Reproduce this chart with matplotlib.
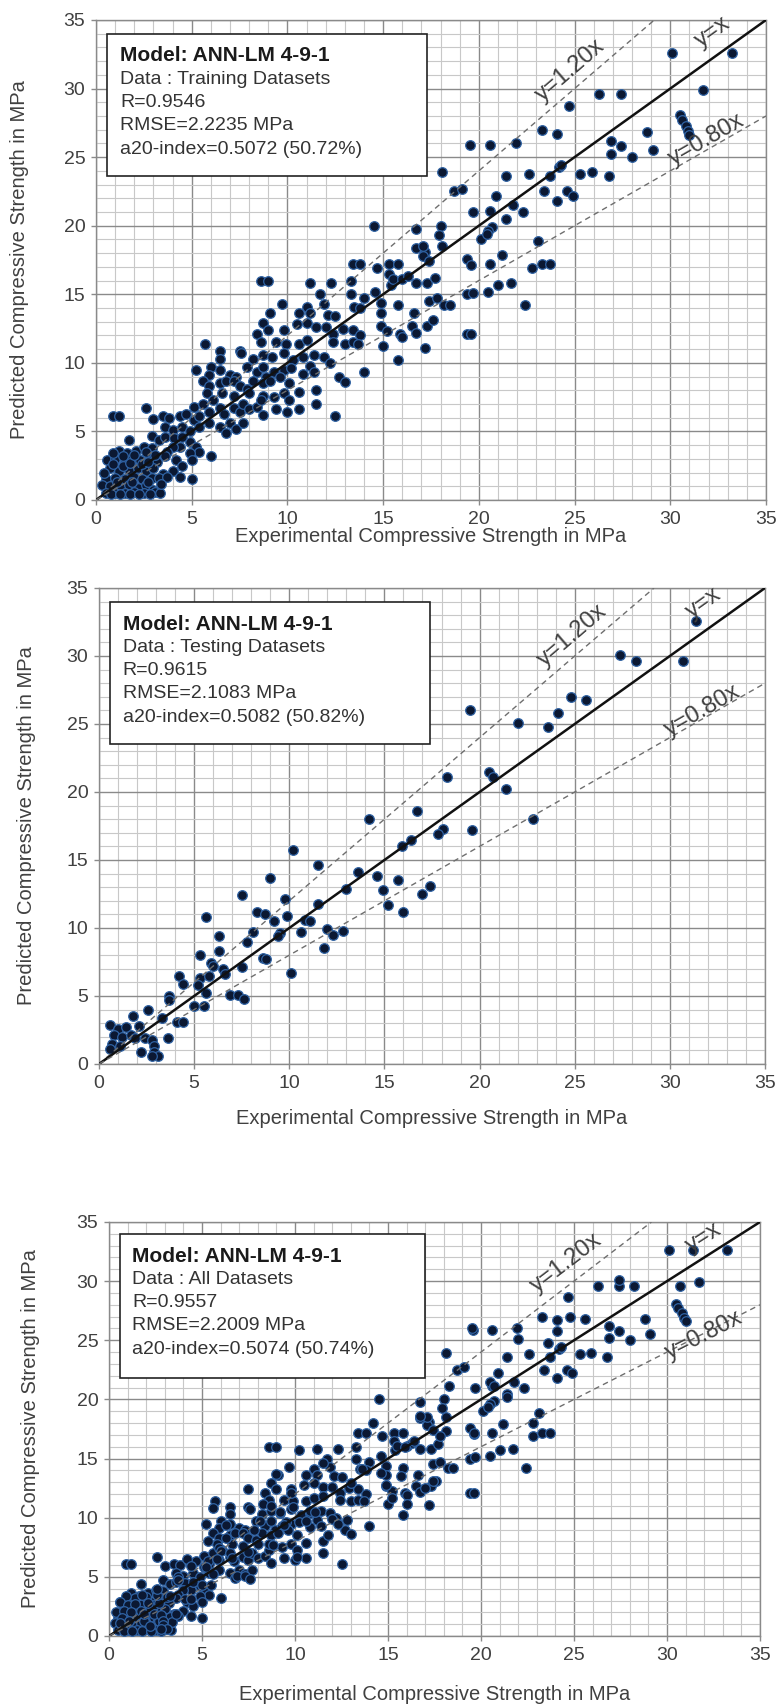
import matplotlib
matplotlib.use("Agg")
import matplotlib.pyplot as plt
from matplotlib.patches import Rectangle
import numpy as np

plt.rcParams['font.family'] = ['Liberation Sans', 'DejaVu Sans']

# ---------------- data ----------------
# Training datasets
train_x = [
    8.6, 9.0, 11.2, 12.3, 13.3, 15.4,
    11.7, 13.3, 14.6,
    9.7, 11.9, 11.0, 14.0, 14.9,
    9.1, 10.6, 11.2, 12.1, 12.5, 13.5, 13.8, 14.9,
    8.7, 9.0, 8.4, 9.8, 10.5, 11.0, 11.5, 12.0, 12.4, 12.9, 13.4, 13.8, 14.9, 15.2,
    5.7, 8.6, 9.4, 9.9, 10.6, 11.0, 12.4, 13.0, 13.4, 13.7, 15.0,
    6.5, 7.5, 7.6, 6.5, 8.2, 8.7, 9.2, 9.8, 10.3, 10.8, 11.4, 11.9, 12.2, 11.2,
    5.2, 6.0, 5.9, 6.5, 7.0, 7.3, 7.9, 8.4, 8.7, 8.9, 9.3, 9.8, 10.2, 10.8, 11.4, 12.7, 13.0, 14.0,
    5.6, 5.9, 5.8, 6.5, 6.8, 7.2, 7.5, 6.6, 7.2, 7.9, 8.2, 8.7, 9.1, 9.6, 10.1, 10.6, 8.0, 8.7, 9.3, 9.8, 11.5, 11.5,
    5.1, 5.6, 6.1, 6.5, 5.9, 6.7, 7.2, 7.5, 7.7, 8.0, 8.4, 8.6, 8.7, 10.1, 10.0, 10.6, 9.4, 12.5, 2.6, 0.9, 1.2,
    3.0, 3.5, 3.8, 4.4, 4.7, 5.1, 5.4, 3.6, 4.0, 4.5, 4.9, 5.4, 5.9, 6.5, 7.0, 7.3, 6.8, 7.7,
    2.9, 1.7, 3.3, 3.6, 4.1, 4.4, 4.9, 5.2, 5.4, 4.9, 6.0, 4.5, 4.0, 3.7, 3.6,
    1.2, 1.6, 2.1, 2.5, 2.9, 0.6, 1.0, 1.5, 1.9, 2.3, 2.8, 3.2, 4.2, 4.5, 5.0,
    0.75, 1.2, 1.7, 2.2, 2.6, 3.0, 3.5, 4.0, 4.4, 5.0, 0.5, 1.0, 1.5, 2.0, 2.4, 2.9, 3.3, 3.7,
    0.3, 0.75, 1.3, 1.7, 2.2, 2.6, 3.0, 0.5, 1.0, 1.5, 2.0, 2.5, 3.1,
    0.8, 1.25, 1.75, 2.25, 2.8, 3.35,
    0.4, 0.9, 1.4, 1.8, 2.4, 2.7, 3.1, 1.1, 1.9, 2.7, 3.4, 1.4, 2.0, 2.6, 0.9,
    14.5, 13.4, 13.8, 14.7, 15.3, 15.3, 15.5,
    15.8, 16.0, 16.3, 16.7, 17.3, 17.7, 17.2, 17.1, 17.4,
    19.4, 19.6, 20.6, 21.2, 22.8, 23.3, 23.7,
    15.8, 17.4, 17.8, 18.2, 18.5, 19.4, 19.7, 20.5, 21.0, 21.7, 22.4,
    19.4, 19.6, 15.9, 16.0, 16.5, 16.7, 17.3, 17.2, 15.8, 16.6, 17.6,
    30.1, 33.2, 31.7, 26.3, 27.4, 24.7,
    30.5, 30.6, 30.8, 30.9, 31.0,
    19.55, 20.6, 21.95, 23.3, 24.1, 26.9, 27.4, 28.8, 26.9, 28.0, 29.1,
    18.1, 18.7, 19.1, 21.4, 22.6, 23.7, 24.2, 24.3, 25.3, 25.9, 26.8,
    20.9, 23.4, 24.6, 24.9, 24.1, 21.8, 22.3, 19.7, 20.6, 21.4,
    20.7, 20.5, 20.1, 20.4, 23.1, 16.7, 18.0, 17.9, 18.1, 16.7, 17.1,
]
train_y = [
    16.0, 16.0, 15.8, 15.8, 16.0, 15.7,
    15.0, 15.0, 15.2,
    14.3, 14.3, 14.1, 14.7, 14.4,
    13.6, 13.6, 13.6, 13.5, 13.4, 14.1, 14.0, 13.6,
    12.9, 12.4, 12.1, 12.4, 12.8, 12.9, 12.6, 12.6, 12.1, 12.5, 12.4, 12.0, 12.7, 12.3,
    11.4, 11.5, 11.5, 11.4, 11.4, 11.7, 11.5, 11.4, 11.5, 11.4, 11.2,
    10.9, 10.9, 10.7, 10.3, 10.3, 10.6, 10.4, 10.7, 10.2, 10.4, 10.6, 10.4, 10.0, 9.8,
    9.5, 9.7, 9.1, 9.5, 9.1, 9.0, 9.7, 9.3, 9.7, 9.0, 9.3, 9.5, 9.6, 9.2, 9.3, 9.0, 8.6, 9.3,
    8.7, 8.3, 7.8, 8.5, 8.7, 8.7, 8.3, 7.8, 7.6, 8.1, 8.7, 8.5, 8.7, 9.0, 8.5, 7.9, 7.8, 7.6, 7.5, 7.8, 8.0, 7.0,
    6.8, 7.0, 7.3, 6.7, 6.4, 6.3, 6.7, 6.4, 7.0, 6.6, 6.8, 7.3, 6.2, 7.3, 6.4, 6.6, 6.6, 6.1, 6.7, 6.1, 6.1,
    5.9, 6.1, 6.0, 6.1, 6.3, 5.8, 6.1, 5.3, 5.1, 5.3, 5.0, 5.3, 5.6, 5.3, 5.6, 5.2, 4.9, 5.6,
    4.7, 4.4, 4.4, 4.6, 4.5, 3.9, 4.2, 3.9, 3.5, 3.4, 3.2, 4.6, 3.9, 3.5, 3.2,
    3.6, 3.4, 3.6, 3.9, 3.8, 2.9, 3.0, 2.8, 3.0, 2.9, 3.2, 2.8, 2.9, 2.5, 2.9,
    2.3, 2.1, 2.2, 2.3, 2.1, 2.3, 1.9, 2.1, 1.7, 1.5, 1.5, 1.6, 1.5, 1.7, 1.5, 1.6, 1.6, 1.7,
    1.1, 1.0, 0.85, 1.1, 0.85, 1.1, 0.7, 0.5, 0.5, 0.5, 0.6, 0.5, 0.6,
    0.45, 0.45, 0.45, 0.45, 0.45, 0.5,
    2.0, 2.6, 2.5, 2.7, 2.6, 2.8, 3.3, 1.3, 1.3, 1.3, 1.2, 3.2, 3.3, 3.5, 3.4,
    20.0, 17.2, 17.2, 16.9, 17.2, 16.5, 16.1,
    17.2, 16.1, 16.3, 15.8, 15.8, 16.2, 18.1, 17.8, 17.4,
    17.6, 17.1, 17.2, 17.9, 16.9, 17.2, 17.2,
    14.2, 14.5, 14.7, 14.2, 14.2, 15.0, 15.1, 15.2, 15.7, 15.8, 14.2,
    12.1, 12.1, 12.1, 11.9, 12.7, 12.2, 12.7, 11.1, 10.2, 13.6, 13.1,
    32.6, 32.6, 29.9, 29.6, 29.6, 28.7,
    28.1, 27.7, 27.3, 26.9, 26.6,
    25.9, 25.9, 26.0, 27.0, 26.7, 26.2, 25.8, 26.8, 25.2, 25.0, 25.5,
    23.9, 22.5, 22.7, 23.6, 23.8, 23.6, 24.3, 24.4, 23.8, 23.9, 23.6,
    22.2, 22.5, 22.5, 22.2, 21.8, 21.5, 21.0, 21.0, 21.1, 20.5,
    19.9, 19.6, 19.0, 19.4, 18.85, 19.75, 20.0, 19.3, 18.5, 18.4, 18.5,
]

# Testing datasets
test_x = [
    31.4, 27.4, 28.2, 30.7, 24.8, 25.6, 24.1, 23.6, 22.0, 19.5,
    20.5, 20.7, 21.4, 18.3, 22.8, 19.6, 16.7, 14.2, 18.1, 17.8,
    15.9, 16.4, 10.2, 11.5, 9.0, 13.6, 14.6, 15.7, 14.9, 17.4,
    17.0, 15.2, 16.0, 13.0, 11.5, 7.5, 9.8, 8.3, 8.7, 9.9,
    9.2, 5.6, 10.8, 11.1, 12.0, 12.3, 12.8, 10.6, 9.5, 9.4,
    8.1, 6.3, 7.8, 11.8, 6.3, 5.3, 8.6, 8.8, 5.9, 6.0,
    7.5, 6.5, 6.6, 10.1, 4.2, 4.4, 5.3, 5.8, 5.2, 5.6,
    6.9, 7.3, 7.6, 3.7, 3.7, 5.0, 5.5, 2.6, 1.8, 3.3,
    4.1, 4.4, 0.6, 1.0, 1.4, 2.1, 0.8, 1.2, 1.7, 1.9,
    2.4, 2.8, 3.6, 0.7, 1.1, 2.9, 0.6, 2.2, 2.9, 3.1,
    2.8,
]
test_y = [
    32.6, 30.1, 29.6, 29.6, 27.0, 26.8, 25.8, 24.8, 25.1, 26.0,
    21.5, 21.1, 20.2, 21.1, 18.0, 17.2, 18.6, 18.0, 17.3, 16.9,
    16.0, 16.5, 15.7, 14.6, 13.7, 14.1, 13.8, 13.5, 12.8, 13.1,
    12.5, 11.7, 11.2, 12.9, 11.8, 12.4, 12.1, 11.2, 11.0, 10.9,
    10.5, 10.8, 10.6, 10.5, 9.9, 9.5, 9.8, 9.7, 9.6, 9.4,
    9.7, 9.4, 9.0, 8.5, 8.3, 8.0, 7.8, 7.7, 7.4, 7.2,
    7.1, 7.0, 6.6, 6.7, 6.5, 5.9, 6.3, 6.5, 5.8, 5.2,
    5.1, 5.1, 4.8, 5.0, 4.7, 4.3, 4.3, 4.0, 3.5, 3.4,
    3.1, 3.1, 2.9, 2.6, 2.7, 2.8, 2.1, 2.0, 2.1, 1.9,
    1.9, 1.8, 1.9, 1.5, 1.3, 1.3, 1.1, 0.85, 0.9, 0.56,
    0.56,
]

# All datasets = training + testing
all_x = train_x + test_x
all_y = train_y + test_y

dataset_labels = ["Data : Training Datasets", "Data : Testing Datasets", "Data : All Datasets"]
model_label = "Model: ANN-LM 4-9-1"
r_labels = ["R=0.9546", "R=0.9615", "R=0.9557"]
rmse_labels = ["RMSE=2.2235 MPa", "RMSE=2.1083 MPa", "RMSE=2.2009 MPa"]
a20_labels = ["a20-index=0.5072 (50.72%)", "a20-index=0.5082 (50.82%)", "a20-index=0.5074 (50.74%)"]
major_ticks = [0, 5, 10, 15, 20, 25, 30, 35]
xlabel = "Experimental Compressive Strength in MPa"
ylabel = "Predicted Compressive Strength in MPa"
line_factors = [1.20, 1.00, 0.80]
line_labels = ["y=1.20x", "y=x", "y=0.80x"]

# ---------------- layout ----------------
W, H = 777, 1707
fig = plt.figure(figsize=(W / 100, H / 100), dpi=100)

# (left, top, right, bottom) in pixels
panel_px = [(96, 20, 766, 500), (99, 588, 765, 1064), (109, 1222, 760, 1636)]
ylabel_x_px = [20, 27, 31]
xlabel_y_px = [537, 1118, 1695]
box_right = [17.3, 17.4, 17.0]
label_pos = [
    [(24.8, 31.3), (32.2, 34.1), (31.9, 26.3)],
    [(24.9, 31.5), (31.8, 33.9), (31.7, 26.0)],
    [(24.6, 31.5), (32.0, 33.7), (32.0, 25.4)],
]
box_top_px = [14, 14, 12]
title_px = [36, 36, 34]

series = [(train_x, train_y), (test_x, test_y), (all_x, all_y)]

TXT = '#404040'
for i, (l, t, r, b) in enumerate(panel_px):
    ax = fig.add_axes([l / W, (H - b) / H, (r - l) / W, (b - t) / H])
    hpx = b - t
    ax.set_xlim(0, 35)
    ax.set_ylim(0, 35)
    ax.set_xticks(major_ticks)
    ax.set_yticks(major_ticks)
    ax.set_xticks(np.arange(0, 36, 1), minor=True)
    ax.set_yticks(np.arange(0, 36, 1), minor=True)
    ax.grid(which='minor', color='#c8c8c8', lw=0.8)
    ax.grid(which='major', color='#8a8a8a', lw=1.0)
    ax.set_axisbelow(True)
    ax.tick_params(which='major', direction='out', length=3.6, width=1.0,
                   color='#8a8a8a', labelsize=14, labelcolor=TXT, pad=4)
    ax.tick_params(which='minor', length=0)
    for s in ax.spines.values():
        s.set_color('#8a8a8a')
        s.set_linewidth(1.0)

    xs, ys = series[i]
    ax.scatter(xs, ys, s=48, c='#0b1832', edgecolors='#2f62a3', linewidths=0.9, zorder=3)

    for f, lab, (tx, ty) in zip(line_factors, line_labels, label_pos[i]):
        xe = min(35, 35 / f)
        if f == 1.0:
            ax.plot([0, xe], [0, f * xe], color='#111111', lw=1.8, zorder=4)
        else:
            ax.plot([0, xe], [0, f * xe], color='#6e6e6e', lw=1.0,
                    dashes=(4, 3), zorder=4)
        ang = np.degrees(np.arctan(f))
        ax.text(tx, ty, lab, rotation=ang, transform_rotates_text=True,
                rotation_mode='anchor', ha='center', va='center',
                fontsize=17, color=TXT, zorder=6)

    # text box
    top_f = 1 - box_top_px[i] / hpx
    bot_f = 1 - 156 / hpx
    ax.add_patch(Rectangle((0.6 / 35, bot_f), (box_right[i] - 0.6) / 35, top_f - bot_f,
                           transform=ax.transAxes, facecolor='white',
                           edgecolor='#222222', lw=1.2, zorder=5))
    lines = [model_label, dataset_labels[i], r_labels[i], rmse_labels[i], a20_labels[i]]
    for k, s in enumerate(lines):
        yf = 1 - (title_px[i] + 23.3 * k) / hpx
        ax.text(1.25 / 35, yf, s, transform=ax.transAxes, ha='left', va='center',
                fontsize=15 if k == 0 else 14,
                fontweight='bold' if k == 0 else 'normal',
                color='#1a1a1a' if k == 0 else '#333333', zorder=6)

    fig.text(ylabel_x_px[i] / W, 1 - (t + b) / 2 / H, ylabel, rotation=90,
             ha='center', va='center', fontsize=14.5, color=TXT)
    fig.text((l + r) / 2 / W, 1 - xlabel_y_px[i] / H, xlabel,
             ha='center', va='center', fontsize=14.5, color=TXT)

fig.savefig('out.png', dpi=100)
